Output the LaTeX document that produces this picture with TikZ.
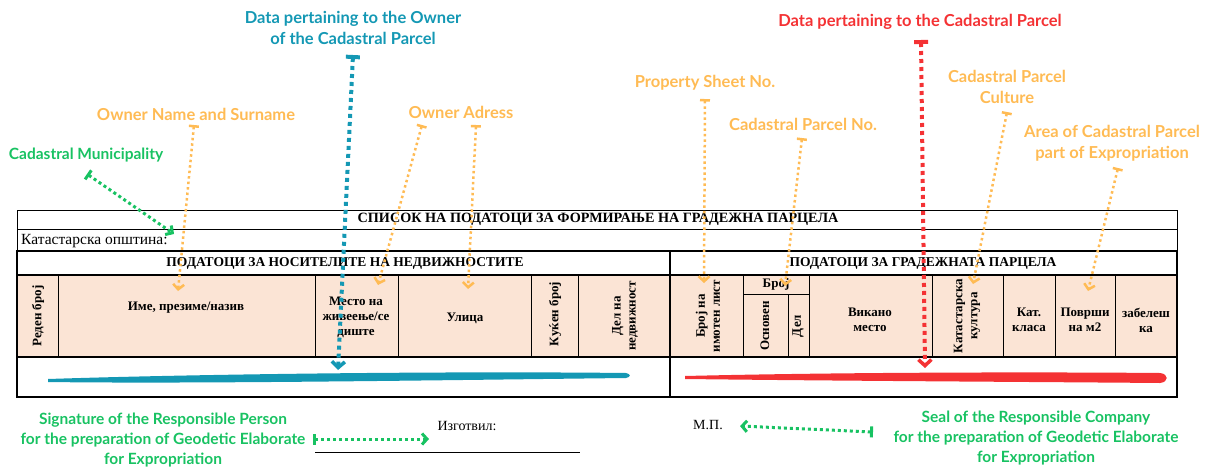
\documentclass[tikz,border=0pt]{standalone}
\usepackage{fontspec}
\setmainfont{Liberation Serif}
\newfontfamily\notefont{Lato}
\usepackage{tikz}
\usetikzlibrary{arrows.meta,positioning,calc}

\definecolor{ownerblue}{RGB}{20,152,180}
\definecolor{parcelred}{RGB}{244,50,52}
\definecolor{noteorange}{RGB}{255,187,84}
\definecolor{signgreen}{RGB}{24,194,98}
\definecolor{headfill}{RGB}{251,228,213}

\begin{document}
\begin{tikzpicture}[x=1pt,y=-1pt,
  note/.style={font=\notefont\bfseries\fontsize{16.5}{21}\selectfont,align=center,inner sep=0pt},
  signnote/.style={note,font=\notefont\bfseries\fontsize{15.5}{20}\selectfont,text=signgreen},
  cell/.style={font=\bfseries\fontsize{13}{15}\selectfont,align=center,inner sep=0pt},
  vcell/.style={cell,rotate=90},
  bigptr/.style={line width=4pt,dash pattern=on 4pt off 4pt,
    {Bar[width=14pt,line width=4pt]}-{Straight Barb[length=6pt,width=13pt,line width=3.5pt]}},
  smallptr/.style={noteorange,line width=2.5pt,dash pattern=on 2.5pt off 3pt,
    {Bar[width=10pt,line width=2.5pt]}-{Straight Barb[length=5pt,width=11pt,line width=2.5pt]}},
  greenptr/.style={signgreen,line width=3pt,dash pattern=on 3pt off 3pt,
    {Bar[width=11pt,line width=3pt]}-{Straight Barb[length=5pt,width=11pt,line width=3pt]}}]
\useasboundingbox (0,0) rectangle (1219,469);

% title rows of the form
\draw[line width=0.8pt] (17,210) rectangle (1177,251);
\draw[line width=0.8pt] (17,229) -- (1177,229);
\node[cell,font=\bfseries\fontsize{14.2}{16}\selectfont] (title) at (598,219)
  {СПИСОК НА ПОДАТОЦИ ЗА ФОРМИРАЊЕ НА ГРАДЕЖНА ПАРЦЕЛА};
\node[anchor=west,inner sep=0pt,font=\fontsize{15.5}{17}\selectfont] (katop) at (21,241) {Катастарска општина:};

% column header fill and frame
\fill[headfill] (17,275) rectangle (1177,357);
\draw[line width=1.6pt] (17,251) rectangle (1177,397);
\draw[line width=1.6pt] (670,251) -- (670,397);
\draw[line width=1.2pt] (17,275) -- (1177,275) (17,357) -- (1177,357);
\foreach \cx in {58,315,398,531,578,743,809,932,1003,1055,1115}
  \draw[line width=0.8pt] (\cx,275) -- (\cx,357);
\draw[line width=0.8pt] (743,294) -- (809,294) (788,294) -- (788,357);

% header texts
\node[cell,font=\bfseries\fontsize{13.5}{16}\selectfont] (hdowner) at (345,263) {ПОДАТОЦИ ЗА НОСИТЕЛИТЕ НА НЕДВИЖНОСТИТЕ};
\node[cell,font=\bfseries\fontsize{13.5}{16}\selectfont] (hdparcel) at (923,263) {ПОДАТОЦИ ЗА ГРАДЕЖНАТА ПАРЦЕЛА};

% owner columns
\node[vcell] (reden) at (38,316) {Реден број};
\node[cell] (ime) at (186,308) {Име, презиме/назив};
\node[cell] (mesto) at (356,317) {Место на\\живеење/се\\диште};
\node[cell] (ulica) at (465,318) {Улица};
\node[vcell] (kukjen) at (555,314) {Куќен број};
\node[vcell] (delned) at (625,316) {Дел на\\недвижност};

% parcel columns
\node[vcell] (imlist) at (708,316) {Број на\\имотен лист};
\node[cell] (broj) at (776,284) {Број};
\node[vcell] (osnoven) at (765,326) {Основен};
\node[vcell] (del) at (798,326) {Дел};
\node[cell] (vikano) at (870,320) {Викано\\место};
\node[vcell] (kultura) at (967,316) {Катастарска\\култура};
\node[cell] (klasa) at (1029,320) {Кат.\\класа};
\node[cell] (povrsh) at (1085,320) {Површи\\на м2};
\node[cell] (zabel) at (1146,320) {забелеш\\ка};

% brush strokes in the data row
\fill[ownerblue] (48,379) .. controls (200,374) and (450,371) .. (626,373)
  .. controls (631,374) and (631,377) .. (626,378)
  .. controls (450,380) and (200,384) .. (48,382) -- cycle;
\fill[parcelred] (685,376) .. controls (850,372) and (1050,372) .. (1160,373)
  .. controls (1169,374) and (1169,382) .. (1160,383)
  .. controls (1050,382) and (850,381) .. (685,379) -- cycle;

% signature and seal
\node[inner sep=0pt,font=\fontsize{14}{16}\selectfont] (izgotvil) at (467,426) {Изготвил:};
\coordinate (signL) at (315,452);
\coordinate (signR) at (580,452);
\draw[line width=0.8pt] (signL) -- (signR);
\node[inner sep=0pt,font=\fontsize{14}{16}\selectfont] (mp) at (708,425) {М.П.};

% labels
\node[note,text=ownerblue] (ownerlbl) at (353,28) {Data pertaining to the Owner\\of the Cadastral Parcel};
\node[note,text=parcelred] (parcellbl) at (920,22) {Data pertaining to the Cadastral Parcel};
\node[note,text=noteorange] (namelbl) at (196,114) {Owner Name and Surname};
\node[note,text=noteorange] (adrlbl) at (461,112) {Owner Adress};
\node[note,text=noteorange] (sheetlbl) at (705,83) {Property Sheet No.};
\node[note,text=noteorange] (parnolbl) at (803,124) {Cadastral Parcel No.};
\node[note,text=noteorange] (cultlbl) at (1007,87) {Cadastral Parcel\\Culture};
\node[note,text=noteorange] (arealbl) at (1112,143) {Area of Cadastral Parcel\\part of Expropriation};
\node[note,text=signgreen,font=\notefont\bfseries\fontsize{15.5}{18}\selectfont] (munlbl) at (86,155) {Cadastral Municipality};
\node[signnote] (signlbl) at (163,440) {Signature of the Responsible Person\\for the preparation of Geodetic Elaborate\\for Expropriation};
\node[signnote] (seallbl) at (1036,438) {Seal of the Responsible Company\\for the preparation of Geodetic Elaborate\\for Expropriation};

% pointer ends
\coordinate (ownerS) at (353,55);   \coordinate (ownerE) at (338,370);
\coordinate (parcelS) at (921,40);  \coordinate (parcelE) at (925,368);
\coordinate (nameS) at (194,125);   \coordinate (nameE) at (178,291);
\coordinate (adrS1) at (422,125);   \coordinate (adrE1) at (378,285);
\coordinate (adrS2) at (476,125);   \coordinate (adrE2) at (468,289);
\coordinate (sheetS) at (705,99);   \coordinate (sheetE) at (704,283);
\coordinate (parnoS) at (802,138);  \coordinate (parnoE) at (785,286);
\coordinate (cultS) at (1007,112);  \coordinate (cultE) at (973,284);
\coordinate (areaS) at (1118,168);  \coordinate (areaE) at (1088,291);
\coordinate (munS) at (87,174);     \coordinate (munE) at (174,234);
\coordinate (signS) at (313,439);   \coordinate (signE) at (429,439);
\coordinate (sealS) at (873,432);   \coordinate (sealE) at (740,426);

% pointers
\draw[bigptr,ownerblue] (ownerS) -- (ownerE);
\draw[bigptr,parcelred] (parcelS) -- (parcelE);
\draw[smallptr] (nameS) -- (nameE);
\draw[smallptr] (adrS1) -- (adrE1);
\draw[smallptr] (adrS2) -- (adrE2);
\draw[smallptr] (sheetS) -- (sheetE);
\draw[smallptr] (parnoS) -- (parnoE);
\draw[smallptr] (cultS) -- (cultE);
\draw[smallptr] (areaS) -- (areaE);
\draw[greenptr] (munS) -- (munE);
\draw[greenptr] (signS) -- (signE);
\draw[greenptr] (sealS) -- (sealE);
\end{tikzpicture}
\end{document}
